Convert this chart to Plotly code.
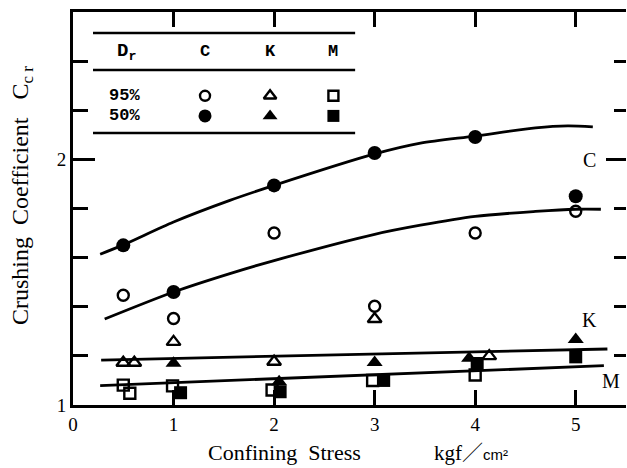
import plotly.graph_objects as go

# Crushing coefficient vs confining stress (kgf/cm2) for sands C, K, M
# at relative densities Dr = 95 % (open) and 50 % (filled)
c95_x = [0.5, 1.0, 2.0, 3.0, 4.0, 5.0]
c95_y = [1.447, 1.352, 1.700, 1.402, 1.700, 1.789]
c50_x = [0.5, 1.0, 2.0, 3.0, 4.0, 5.0]
c50_y = [1.650, 1.460, 1.894, 2.026, 2.091, 1.850]

k95_x = [0.5, 0.61, 1.0, 2.0, 3.0, 4.14]
k95_y = [1.172, 1.172, 1.257, 1.176, 1.350, 1.199]
k50_x = [1.0, 2.05, 3.0, 3.94, 5.0]
k50_y = [1.170, 1.095, 1.173, 1.190, 1.267]

m95_x = [0.5, 0.565, 0.99, 1.98, 2.98, 4.0]
m95_y = [1.081, 1.048, 1.078, 1.061, 1.100, 1.122]
m50_x = [1.07, 2.06, 3.09, 4.02, 5.0]
m50_y = [1.050, 1.054, 1.100, 1.169, 1.196]

# trend curves drawn through the data
curve_c_hi_x = [0.27, 0.5, 1.0, 1.56, 2.0, 3.0, 3.456, 4.0, 4.6, 4.92, 5.17]
curve_c_hi_y = [1.614, 1.652, 1.745, 1.833, 1.894, 2.022, 2.066, 2.095, 2.128, 2.136, 2.132]
curve_c_lo_x = [0.315, 1.0, 1.56, 2.0, 3.0, 3.456, 4.0, 4.6, 5.0, 5.25]
curve_c_lo_y = [1.350, 1.460, 1.535, 1.588, 1.695, 1.732, 1.768, 1.788, 1.797, 1.797]
line_k_x = [0.28, 5.315]
line_k_y = [1.183, 1.228]
line_m_x = [0.27, 5.28]
line_m_y = [1.079, 1.160]

x_ticks = [0, 1, 2, 3, 4, 5]
y_ticks = [1, 2]

SERIF = "Liberation Serif"
MONO = "Liberation Mono"
BLACK = "black"

fig = go.Figure()

for cx, cy in [(curve_c_hi_x, curve_c_hi_y), (curve_c_lo_x, curve_c_lo_y),
               (line_k_x, line_k_y), (line_m_x, line_m_y)]:
    fig.add_trace(go.Scatter(x=cx, y=cy, mode="lines",
                             line=dict(color=BLACK, width=2.8, shape="spline", smoothing=0.8),
                             showlegend=False, hoverinfo="skip"))

open_line = dict(color=BLACK, width=2.4)
styles = {
    "c95": dict(symbol="circle-open", size=11, color=BLACK, line=open_line),
    "c50": dict(symbol="circle", size=14, color=BLACK),
    "k95": dict(symbol="triangle-up-open", size=12, color=BLACK, line=open_line),
    "k50": dict(symbol="triangle-up", size=14, color=BLACK),
    "m95": dict(symbol="square-open", size=11, color=BLACK, line=open_line),
    "m50": dict(symbol="square", size=13, color=BLACK),
}
series = [("c95", c95_x, c95_y), ("c50", c50_x, c50_y),
          ("k95", k95_x, k95_y), ("k50", k50_x, k50_y),
          ("m95", m95_x, m95_y), ("m50", m50_x, m50_y)]
for key, sx, sy in series:
    fig.add_trace(go.Scatter(x=sx, y=sy, mode="markers", marker=styles[key],
                             name=key, showlegend=False))

# key table in the upper-left corner
col_x = {"C": 1.313, "K": 1.96, "M": 2.59}
row_y = {"95%": 2.259, "50%": 2.177}
for row, ry in row_y.items():
    for col, cxp in col_x.items():
        key = col.lower() + row[:2]
        st = dict(styles[key])
        st["size"] = st["size"] - 1
        fig.add_trace(go.Scatter(x=[cxp], y=[ry], mode="markers", marker=st,
                                 showlegend=False, hoverinfo="skip"))

table_x0, table_x1 = 0.199, 2.806
for ly in [2.515, 2.364, 2.107]:
    fig.add_shape(type="line", xref="x", yref="y", x0=table_x0, x1=table_x1,
                  y0=ly, y1=ly, line=dict(color=BLACK, width=2.5))

ann = []
ann.append(dict(x=0.537, y=2.437, xref="x", yref="y", text="<b>D<sub>r</sub></b>",
                showarrow=False, font=dict(family=MONO, size=19, color=BLACK)))
for col, cxp in col_x.items():
    ann.append(dict(x=cxp, y=2.44, xref="x", yref="y", text="<b>%s</b>" % col,
                    showarrow=False, font=dict(family=MONO, size=17, color=BLACK)))
for row, ry in row_y.items():
    ann.append(dict(x=0.517, y=ry, xref="x", yref="y", text="<b>%s</b>" % row,
                    showarrow=False, font=dict(family=MONO, size=17, color=BLACK)))

# sand labels beside the curves
for txt, lx, ly in [("C", 5.14, 1.996), ("K", 5.14, 1.346), ("M", 5.35, 1.098)]:
    ann.append(dict(x=lx, y=ly, xref="x", yref="y", text=txt, showarrow=False,
                    font=dict(family=SERIF, size=20, color=BLACK)))

# axis titles
ann.append(dict(x=0.383, y=-0.122, xref="paper", yref="paper", text="Confining  Stress",
                xanchor="center", yanchor="middle",
                showarrow=False, font=dict(family=SERIF, size=22, color=BLACK)))
ann.append(dict(x=0.72, y=-0.118, xref="paper", yref="paper",
                xanchor="center", yanchor="middle",
                text="kgf<span style='font-family:Noto Sans CJK JP'>／</span>"
                     "<span style='font-family:Liberation Sans;font-size:15px'>cm²</span>",
                showarrow=False, font=dict(family=SERIF, size=21, color=BLACK)))
ann.append(dict(x=-0.092, y=0.532, xref="paper", yref="paper", textangle=-90,
                xanchor="center", yanchor="middle",
                text="Crushing  Coefficient   C<sub>c r</sub>",
                showarrow=False, font=dict(family=SERIF, size=24, color=BLACK)))

# invisible trace so the right-hand tick axis is drawn
fig.add_trace(go.Scatter(x=[0], y=[1], yaxis="y2", mode="markers",
                         marker=dict(opacity=0), showlegend=False, hoverinfo="skip"))

fig.update_layout(
    width=627, height=468,
    margin=dict(l=73, r=1, t=12, b=63),
    plot_bgcolor="white", paper_bgcolor="white",
    annotations=ann,
    xaxis=dict(range=[0, 5.5], tickvals=x_ticks, ticks="inside", ticklen=15, tickwidth=3,
               tickcolor=BLACK, showline=True, linewidth=3, linecolor=BLACK,
               mirror="ticks", showgrid=False, zeroline=False,
               tickfont=dict(family=SERIF, size=19, color=BLACK)),
    yaxis=dict(range=[1, 2.6], tickvals=y_ticks, ticks="inside", ticklen=22, tickwidth=3,
               tickcolor=BLACK, showline=True, linewidth=3, linecolor=BLACK,
               showgrid=False, zeroline=False,
               minor=dict(tick0=1, dtick=0.2, ticks="inside", ticklen=15, tickwidth=3,
                          tickcolor=BLACK, showgrid=False),
               tickfont=dict(family=SERIF, size=19, color=BLACK)),
    yaxis2=dict(range=[1, 2.6], overlaying="y", side="right", tickvals=y_ticks,
                ticks="inside", ticklen=20, tickwidth=3, tickcolor=BLACK,
                showticklabels=False, showline=False, showgrid=False, zeroline=False,
                minor=dict(tick0=1, dtick=0.2, ticks="inside", ticklen=12, tickwidth=3,
                           tickcolor=BLACK, showgrid=False)),
)

fig.write_html("out.html")
